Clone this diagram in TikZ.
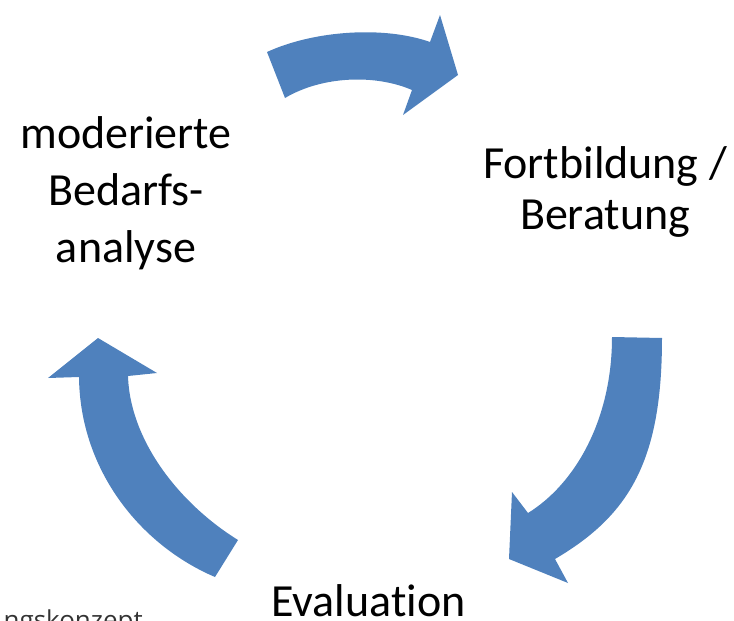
\documentclass[tikz,border=0pt]{standalone}
\usepackage{fontspec}
\setmainfont{Carlito}[Ligatures=NoCommon]
\newfontfamily\captionfont{Open Sans}
\definecolor{arrowblue}{RGB}{79,129,189}
\begin{document}
\begin{tikzpicture}[x=1pt,y=-1pt,
  cyclearrow/.style={fill=arrowblue, draw=none},
  cyclelabel/.style={align=center, inner sep=0pt, text=black}]
\useasboundingbox (0,0) rectangle (734,621);
\clip (0,0) rectangle (734,621);

% top arrow (to the right)
\path[cyclearrow] (267,52) .. controls (315,30) and (385,26) .. (430,42)
  -- (440,15) -- (458,75) -- (403,115) -- (412,90)
  .. controls (375,74) and (322,76) .. (285,98) -- cycle;

% right arrow (down)
\path[cyclearrow] (612,337) -- (662,338)
  .. controls (662,460) and (630,515) .. (555,559)
  -- (568,583) -- (509,559) -- (512,492) -- (528,513)
  .. controls (575,484) and (612,420) .. (612,337) -- cycle;

% left arrow (up)
\path[cyclearrow] (238,540) .. controls (178.5,503) and (130,440) .. (128,376)
  -- (157,373) -- (98,338) -- (48,378) -- (79,377)
  .. controls (80,470) and (140,545) .. (215,577) -- cycle;

\node[cyclelabel, font=\fontsize{46}{57}\selectfont, anchor=base] (bedarf) at (126,262) {moderierte\\Bedarfs-\\analyse};
\node[cyclelabel, font=\fontsize{46}{51}\selectfont, anchor=base] (fortbildung) at (605,229) {Fortbildung /\\Beratung};
\node[cyclelabel, font=\fontsize{46}{51}\selectfont, anchor=base, text depth=0pt] (evaluation) at (368.5,616) {Evaluation};
\node[inner sep=0pt, anchor=base east, font=\captionfont\fontsize{26}{30}\selectfont, text=black!80] (caption) at (143,629) {ngskonzept};
\end{tikzpicture}
\end{document}
